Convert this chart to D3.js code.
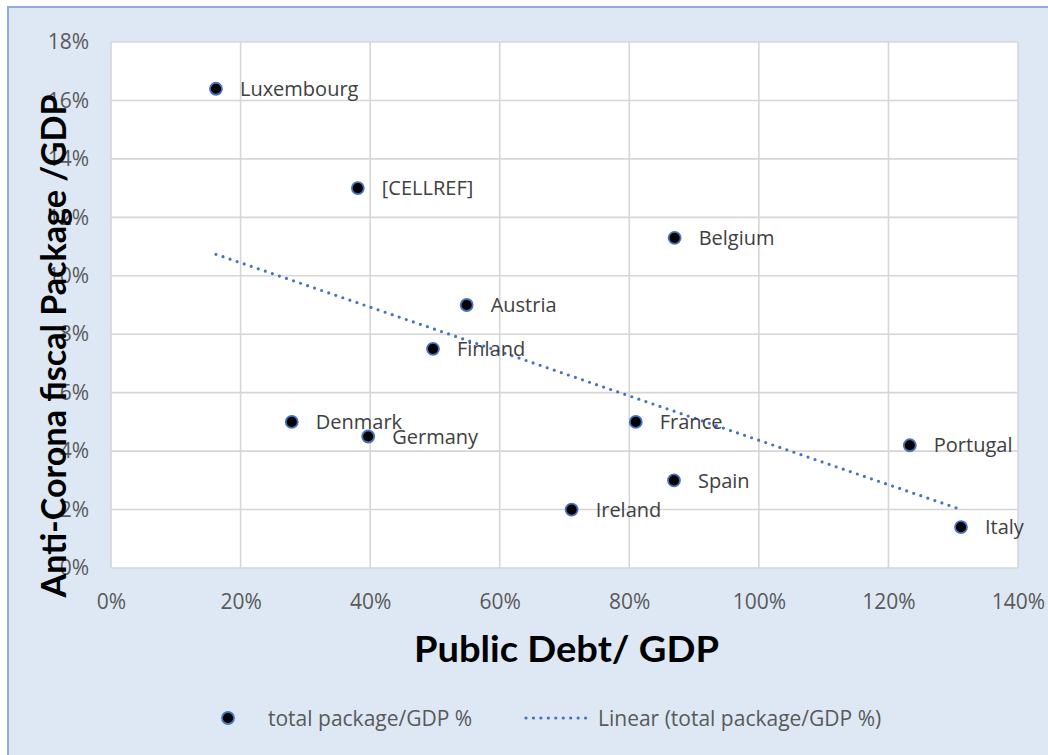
<!DOCTYPE html>
<html>
<head>
<meta charset="utf-8">
<script src="https://cdn.jsdelivr.net/npm/d3@7"></script>
<style>
html,body{margin:0;padding:0;background:#fff;}
svg{display:block;}
</style>
</head>
<body>
<svg id="chart" width="1048" height="755"></svg>
<script>
// ---- data ----
const countries = ["Luxembourg","[CELLREF]","Belgium","Austria","Finland","Denmark","Germany","France","Portugal","Spain","Ireland","Italy"];
const debtGDP   = [0.162,0.381,0.870,0.549,0.497,0.279,0.397,0.810,1.233,0.869,0.711,1.312];
const packageGDP= [0.164,0.130,0.113,0.090,0.075,0.050,0.045,0.050,0.042,0.030,0.020,0.014];
const xTicks = [0,0.2,0.4,0.6,0.8,1.0,1.2,1.4];
const yTicks = [0,0.02,0.04,0.06,0.08,0.10,0.12,0.14,0.16,0.18];
const seriesName = "total package/GDP %";
const trendName = "Linear (total package/GDP %)";
const xTitle = "Public Debt/ GDP";
const yTitle = "Anti-Corona fiscal Package /GDP";

// ---- layout ----
const W = 1048, H = 755;
const plot = {left:111, right:1018, top:42, bottom:568};
const blue = "#4472c4";
const svg = d3.select("#chart");

svg.append("rect").attr("x",8).attr("y",7).attr("width",W+20).attr("height",H+20)
  .attr("fill","#dde8f4").attr("stroke","#8faadc").attr("stroke-width",2);

const x = d3.scaleLinear().domain([0,1.4]).range([plot.left,plot.right]);
const y = d3.scaleLinear().domain([0,0.18]).range([plot.bottom,plot.top]);

svg.append("rect").attr("x",plot.left).attr("y",plot.top)
  .attr("width",plot.right-plot.left).attr("height",plot.bottom-plot.top).attr("fill","#fff");

// gridlines
const grid = svg.append("g").attr("stroke","#d6d6d6").attr("stroke-width",1.6);
grid.selectAll("line.v").data(xTicks).join("line")
  .attr("x1",d=>x(d)).attr("x2",d=>x(d)).attr("y1",plot.top).attr("y2",plot.bottom);
grid.selectAll("line.h").data(yTicks).join("line")
  .attr("y1",d=>y(d)).attr("y2",d=>y(d)).attr("x1",plot.left).attr("x2",plot.right);

const pct = d3.format(".0%");
// axes (tick labels only)
const xAxis = svg.append("g").attr("transform",`translate(0,${plot.bottom})`)
  .call(d3.axisBottom(x).tickValues(xTicks).tickFormat(pct).tickSize(0).tickPadding(26));
const yAxis = svg.append("g").attr("transform",`translate(${plot.left},0)`)
  .call(d3.axisLeft(y).tickValues(yTicks).tickFormat(pct).tickSize(0).tickPadding(22));
[xAxis,yAxis].forEach(a=>{
  a.select(".domain").remove();
  a.selectAll("text").attr("fill","#595959").style("font-family","'Open Sans',sans-serif").style("font-size","21px");
});

// trendline (least squares of the data)
const n = debtGDP.length;
const mx = d3.mean(debtGDP), my = d3.mean(packageGDP);
let sxy=0, sxx=0;
for(let i=0;i<n;i++){ sxy+=(debtGDP[i]-mx)*(packageGDP[i]-my); sxx+=(debtGDP[i]-mx)**2; }
const slope = sxy/sxx, icpt = my - slope*mx;
const xe = d3.extent(debtGDP);
svg.append("path")
  .attr("d", d3.line().x(d=>x(d)).y(d=>y(icpt+slope*d))(xe))
  .attr("fill","none").attr("stroke",blue).attr("stroke-width",3.2)
  .attr("stroke-linecap","round").attr("stroke-dasharray","0 7.45");

// points
const pts = svg.append("g");
pts.selectAll("circle").data(countries).join("circle")
  .attr("cx",(d,i)=>x(debtGDP[i])).attr("cy",(d,i)=>y(packageGDP[i]))
  .attr("r",6).attr("fill","#000").attr("stroke",blue).attr("stroke-width",1.8);
pts.selectAll("text").data(countries).join("text")
  .attr("x",(d,i)=>x(debtGDP[i])+24).attr("y",(d,i)=>y(packageGDP[i]))
  .attr("dy","0.36em").attr("fill","#404040")
  .style("font-family","'Open Sans',sans-serif").style("font-size","20px")
  .text(d=>d);

// axis titles
svg.append("text").attr("x",(plot.left+plot.right)/2+2).attr("y",662)
  .attr("text-anchor","middle").attr("fill","#000")
  .style("font-family","Lato,sans-serif").style("font-weight","bold").style("font-size","36px")
  .attr("textLength",305).attr("lengthAdjust","spacingAndGlyphs")
  .text(xTitle);
svg.append("text").attr("transform","translate(66,346) rotate(-90)")
  .attr("text-anchor","middle").attr("fill","#000")
  .style("font-family","Lato,sans-serif").style("font-weight","bold").style("font-size","35px")
  .attr("textLength",503).attr("lengthAdjust","spacingAndGlyphs")
  .text(yTitle);

// legend
const lg = svg.append("g").style("font-family","'Open Sans',sans-serif").style("font-size","21px");
lg.append("circle").attr("cx",228).attr("cy",718).attr("r",6).attr("fill","#000").attr("stroke",blue).attr("stroke-width",1.8);
lg.append("text").attr("x",268).attr("y",718).attr("dy","0.36em").attr("fill","#595959").text(seriesName);
lg.append("line").attr("x1",526).attr("x2",586).attr("y1",718).attr("y2",718)
  .attr("stroke",blue).attr("stroke-width",3.2).attr("stroke-linecap","round").attr("stroke-dasharray","0 7.45");
lg.append("text").attr("x",598).attr("y",718).attr("dy","0.36em").attr("fill","#595959").text(trendName);
</script>
</body>
</html>
